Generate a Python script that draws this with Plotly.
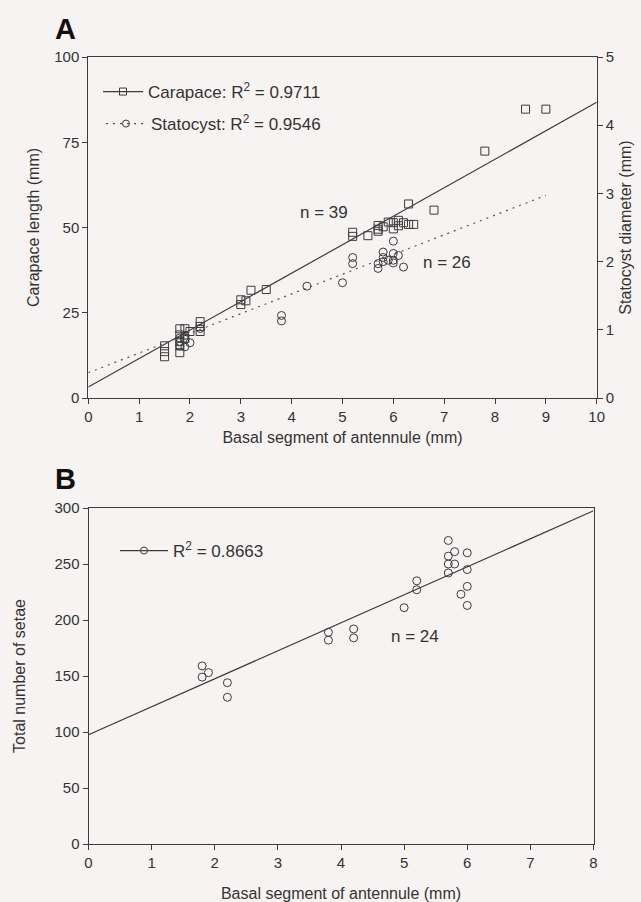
import numpy as np
import plotly.graph_objects as go

# ---------------- Panel A data ----------------
carapace_x = [1.5, 1.5, 1.5, 1.8, 1.8, 1.8, 1.8, 1.9, 2.0, 1.9, 2.2, 2.2, 2.2,
              3.0, 3.0, 3.1, 3.2, 3.5, 5.2, 5.2, 5.5, 5.7, 5.7, 5.8, 5.9, 6.0,
              6.0, 6.1, 6.2, 6.3, 6.3, 6.4, 6.8, 7.8, 8.6, 9.0, 5.7, 6.1, 1.8]
carapace_y = [15.3, 13.6, 12.1, 15.3, 13.3, 20.3, 18.5, 20.3, 19.5, 17.5, 22.4, 21.0, 19.5,
              28.8, 27.4, 28.5, 31.6, 31.8, 48.6, 47.4, 47.6, 50.6, 48.9, 50.2, 51.6, 51.4,
              49.6, 52.1, 51.4, 56.9, 50.9, 50.9, 55.1, 72.4, 84.7, 84.7, 49.5, 50.5, 16.5]

statocyst_x = [1.8, 1.9, 1.9, 2.0, 1.8, 1.8, 1.9, 3.8, 3.8, 4.3, 5.0, 5.2, 5.2,
               5.7, 5.7, 5.8, 5.8, 5.9, 6.0, 6.0, 6.0, 6.1, 6.2, 5.8, 6.0, 2.2]
statocyst_y = [0.76, 0.75, 0.86, 0.81, 0.88, 0.83, 0.92, 1.21, 1.13, 1.64, 1.69, 2.06, 1.97,
               1.97, 1.90, 2.14, 2.06, 2.02, 2.30, 2.12, 1.98, 2.09, 1.92, 2.00, 2.02, 1.02]

# regression fits: (intercept, slope, x-start, x-end)
carapace_fit = (3.2, 8.35, 0.0, 10.0)
statocyst_fit = (0.37, 0.289, 0.0, 9.0)

# ---------------- Panel B data ----------------
setae_x = [1.8, 1.9, 1.8, 2.2, 2.2, 3.8, 3.8, 4.2, 4.2, 5.0, 5.2, 5.2,
           5.7, 5.7, 5.7, 5.7, 5.8, 5.8, 5.9, 6.0, 6.0, 6.0, 6.0]
setae_y = [159, 153, 149, 144, 131, 189, 182, 192, 184, 211, 235, 227,
           271, 257, 250, 242, 261, 250, 223, 260, 245, 230, 213]
setae_fit = (97.5, 25.0, 0.0, 8.0)

xticks_a = list(range(0, 11))
yticks_a = [0, 25, 50, 75, 100]
yticks_a2 = [0, 1, 2, 3, 4, 5]
xticks_b = list(range(0, 9))
yticks_b = [0, 50, 100, 150, 200, 250, 300]

# ---------------- styling ----------------
W, H = 641, 902
BG = "#f6f3f2"
INK = "#3c3c3c"
FONT = "Liberation Sans, Arial, sans-serif"


def fit_line(fit):
    b0, b1, xa, xb = fit
    xs = np.array([xa, xb])
    return xs, b0 + b1 * xs


fig = go.Figure()

# Panel A regression lines
xs, ys = fit_line(carapace_fit)
fig.add_trace(go.Scatter(x=xs, y=ys, mode="lines", line=dict(color=INK, width=1.2),
                         xaxis="x", yaxis="y", showlegend=False, hoverinfo="skip"))
xs, ys = fit_line(statocyst_fit)
fig.add_trace(go.Scatter(x=xs, y=ys, mode="lines", line=dict(color="#555", width=1.2, dash="2px,5px"),
                         xaxis="x", yaxis="y2", showlegend=False, hoverinfo="skip"))
# Panel A points
fig.add_trace(go.Scatter(x=carapace_x, y=carapace_y, mode="markers",
                         marker=dict(symbol="square-open", size=8, color=INK, line=dict(width=1, color=INK)),
                         xaxis="x", yaxis="y", showlegend=False))
fig.add_trace(go.Scatter(x=statocyst_x, y=statocyst_y, mode="markers",
                         marker=dict(symbol="circle-open", size=8, color=INK, line=dict(width=1, color=INK)),
                         xaxis="x", yaxis="y2", showlegend=False))

# legend entries
fig.add_trace(go.Scatter(x=[None], y=[None], mode="lines+markers", name="Carapace: R<sup>2</sup> = 0.9711",
                         line=dict(color=INK, width=1.2),
                         marker=dict(symbol="square-open", size=7, color=INK),
                         xaxis="x", yaxis="y", legend="legend"))
fig.add_trace(go.Scatter(x=[None], y=[None], mode="lines+markers", name="Statocyst: R<sup>2</sup> = 0.9546",
                         line=dict(color="#555", width=1.2, dash="2px,5px"),
                         marker=dict(symbol="circle-open", size=7, color=INK),
                         xaxis="x", yaxis="y2", legend="legend2"))

# Panel B
xs, ys = fit_line(setae_fit)
fig.add_trace(go.Scatter(x=xs, y=ys, mode="lines", line=dict(color=INK, width=1.2),
                         xaxis="x2", yaxis="y3", showlegend=False, hoverinfo="skip"))
fig.add_trace(go.Scatter(x=setae_x, y=setae_y, mode="markers",
                         marker=dict(symbol="circle-open", size=8, color=INK, line=dict(width=1, color=INK)),
                         xaxis="x2", yaxis="y3", showlegend=False))
fig.add_trace(go.Scatter(x=[None], y=[None], mode="lines+markers", name="R<sup>2</sup> = 0.8663",
                         line=dict(color=INK, width=1.2),
                         marker=dict(symbol="circle-open", size=7, color=INK),
                         xaxis="x2", yaxis="y3", legend="legend3"))


def px_x(p):
    return p / W


def px_y(p):
    return 1 - p / H


axis_common = dict(showgrid=False, zeroline=False, showline=True, linecolor=INK, linewidth=1,
                   ticks="outside", ticklen=5, tickcolor=INK, tickwidth=1,
                   tickfont=dict(family=FONT, size=15, color="#333"), automargin=False)
title_font = dict(family=FONT, size=16, color="#333")
legend_common = dict(font=dict(family=FONT, size=17, color="#333"), bgcolor="rgba(0,0,0,0)",
                     itemwidth=40, xanchor="left", yanchor="middle", tracegroupgap=0)
ann_font = dict(family=FONT, size=17, color="#333")

fig.update_layout(
    width=W, height=H, margin=dict(l=0, r=0, t=0, b=0),
    paper_bgcolor=BG, plot_bgcolor=BG,
    font=dict(family=FONT, color="#333"),
    xaxis=dict(axis_common, domain=[px_x(88.3), px_x(596.7)], range=[0, 10], tickvals=xticks_a,
               anchor="y", mirror=True,
               title=dict(text="Basal segment of antennule (mm)", font=title_font, standoff=7)),
    yaxis=dict(axis_common, domain=[px_y(398), px_y(57)], range=[0, 100], tickvals=yticks_a,
               anchor="x",
               title=dict(text="Carapace length (mm)", font=title_font, standoff=10)),
    yaxis2=dict(axis_common, domain=[px_y(398), px_y(57)], range=[0, 5], tickvals=yticks_a2,
                overlaying="y", side="right", anchor="x",
                title=dict(text="Statocyst diameter (mm)", font=title_font, standoff=6)),
    xaxis2=dict(axis_common, domain=[px_x(88.5), px_x(593.5)], range=[0, 8], tickvals=xticks_b,
                anchor="y3", mirror=True,
                title=dict(text="Basal segment of antennule (mm)", font=title_font, standoff=18)),
    yaxis3=dict(axis_common, domain=[px_y(844), px_y(508)], range=[0, 300], tickvals=yticks_b,
                anchor="x2", mirror=True,
                title=dict(text="Total number of setae", font=title_font, standoff=24)),
    legend=dict(legend_common, x=px_x(98), y=px_y(92)),
    legend2=dict(legend_common, x=px_x(101), y=px_y(124)),
    legend3=dict(legend_common, x=px_x(115), y=px_y(551), itemwidth=48),
    annotations=[
        dict(text="<b>A</b>", x=px_x(65), y=px_y(29), xref="paper", yref="paper",
             xanchor="center", yanchor="middle", showarrow=False,
             font=dict(family=FONT, size=29, color="#111")),
        dict(text="<b>B</b>", x=px_x(65), y=px_y(479), xref="paper", yref="paper",
             xanchor="center", yanchor="middle", showarrow=False,
             font=dict(family=FONT, size=29, color="#111")),
        dict(text="n = 39", x=4.64, y=54.3, xref="x", yref="y", showarrow=False, font=ann_font),
        dict(text="n = 26", x=7.06, y=39.6, xref="x", yref="y", showarrow=False, font=ann_font),
        dict(text="n = 24", x=5.17, y=185, xref="x2", yref="y3", showarrow=False, font=ann_font),
    ],
)

fig.write_html(
    "out.html",
    config={"displayModeBar": False},
    post_script="document.body.style.margin='0';document.body.style.background='#f6f3f2';",
)
